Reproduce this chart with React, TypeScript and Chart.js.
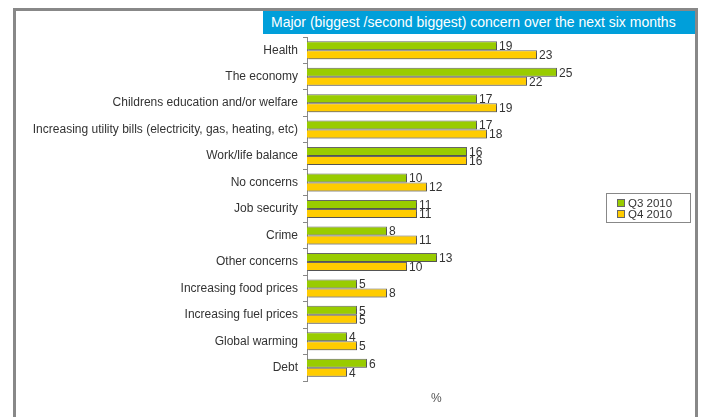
import React, { useEffect, useRef } from "react";
import { Chart, registerables } from "chart.js";

Chart.register(...registerables);

const categories = [
  "Health",
  "The economy",
  "Childrens education and/or welfare",
  "Increasing utility bills (electricity, gas, heating, etc)",
  "Work/life balance",
  "No concerns",
  "Job security",
  "Crime",
  "Other concerns",
  "Increasing food prices",
  "Increasing fuel prices",
  "Global warming",
  "Debt",
];
const q3Values = [19, 25, 17, 17, 16, 10, 11, 8, 13, 5, 5, 4, 6];
const q4Values = [23, 22, 19, 18, 16, 12, 11, 11, 10, 8, 5, 5, 4];
const seriesNames = ["Q3 2010", "Q4 2010"];
const titleText = "Major (biggest /second biggest) concern over the next six months";
const axisUnit = "%";

const GREEN = "#99CC00";
const YELLOW = "#FFCC00";
const FONT = "'Liberation Sans', Arial, sans-serif";

const shadowPlugin = {
  id: "barShadow",
  beforeDatasetsDraw(chart: any) {
    const ctx = chart.ctx;
    ctx.save();
    ctx.shadowColor = "rgba(0,0,0,0.18)";
    ctx.shadowOffsetX = 2;
    ctx.shadowOffsetY = 2;
    ctx.shadowBlur = 0;
  },
  afterDatasetsDraw(chart: any) {
    const ctx = chart.ctx;
    ctx.restore();
    ctx.save();
    ctx.font = `12px ${FONT}`;
    ctx.fillStyle = "#333333";
    ctx.textAlign = "left";
    ctx.textBaseline = "middle";
    chart.data.datasets.forEach((ds: any, di: number) => {
      const meta = chart.getDatasetMeta(di);
      meta.data.forEach((bar: any, i: number) => {
        ctx.fillText(String(ds.data[i]), bar.x + 2, bar.y + 1);
      });
    });
    ctx.restore();
  },
};

export default function App() {
  const ref = useRef<HTMLCanvasElement | null>(null);
  useEffect(() => {
    if (!ref.current) return;
    const chart = new Chart(ref.current, {
      type: "bar",
      data: {
        labels: categories,
        datasets: [
          {
            label: seriesNames[0],
            data: q3Values,
            backgroundColor: GREEN,
            borderColor: "#666666",
            borderWidth: 1,
            barPercentage: 1,
            categoryPercentage: 0.68,
          },
          {
            label: seriesNames[1],
            data: q4Values,
            backgroundColor: YELLOW,
            borderColor: "#666666",
            borderWidth: 1,
            barPercentage: 1,
            categoryPercentage: 0.68,
          },
        ],
      },
      options: {
        indexAxis: "y",
        animation: false,
        responsive: false,
        maintainAspectRatio: false,
        layout: { padding: { top: 37, bottom: 36, left: 0, right: 94 } },
        plugins: {
          legend: { display: false },
          tooltip: { enabled: false },
          title: { display: false },
        },
        scales: {
          x: {
            display: false,
            min: 0,
            max: 30,
          },
          y: {
            afterFit: (scale: any) => {
              scale.width = 307;
            },
            grid: {
              drawOnChartArea: false,
              drawTicks: true,
              tickLength: 4,
              color: "#888888",
              offset: true,
            },
            border: { display: true, color: "#888888", width: 1 },
            ticks: {
              color: "#333333",
              padding: 5,
              font: { family: FONT, size: 12 },
              autoSkip: false,
            },
          },
        },
      },
      plugins: [shadowPlugin],
    });
    return () => chart.destroy();
  }, []);

  return (
    <div
      style={{
        position: "fixed",
        left: 0,
        top: 0,
        width: 701,
        height: 417,
        background: "#fff",
        fontFamily: FONT,
        overflow: "hidden",
      }}
    >
      <div
        style={{
          position: "absolute",
          left: 13,
          top: 8,
          width: 679,
          height: 420,
          borderLeft: "3px solid #888",
          borderTop: "3px solid #888",
          borderRight: "3px solid #888",
        }}
      />
      <canvas
        ref={ref}
        width={701}
        height={417}
        style={{ position: "absolute", left: 0, top: 0, width: 701, height: 417 }}
      />
      <div
        style={{
          position: "absolute",
          left: 263,
          top: 11,
          width: 432,
          height: 23,
          background: "#009FDA",
          color: "#fff",
          fontSize: 14,
          lineHeight: "23px",
          paddingLeft: 8,
          boxSizing: "border-box",
          whiteSpace: "nowrap",
        }}
      >
        {titleText}
      </div>
      <div
        style={{
          position: "absolute",
          left: 606,
          top: 193,
          width: 85,
          height: 30,
          border: "1px solid #888",
          boxSizing: "border-box",
          fontSize: 11.5,
          color: "#333",
        }}
      >
        {seriesNames.map((name, i) => (
          <div
            key={name}
            style={{
              position: "absolute",
              left: 10,
              top: 3 + i * 11,
              height: 12,
              lineHeight: "12px",
              display: "flex",
              alignItems: "center",
              whiteSpace: "nowrap",
            }}
          >
            <span
              style={{
                display: "inline-block",
                width: 6,
                height: 6,
                background: i === 0 ? GREEN : YELLOW,
                border: "1px solid #666",
                marginRight: 3,
              }}
            />
            {name}
          </div>
        ))}
      </div>
      <div
        style={{
          position: "absolute",
          left: 431,
          top: 391,
          fontSize: 12,
          color: "#555",
          lineHeight: "14px",
        }}
      >
        {axisUnit}
      </div>
    </div>
  );
}
